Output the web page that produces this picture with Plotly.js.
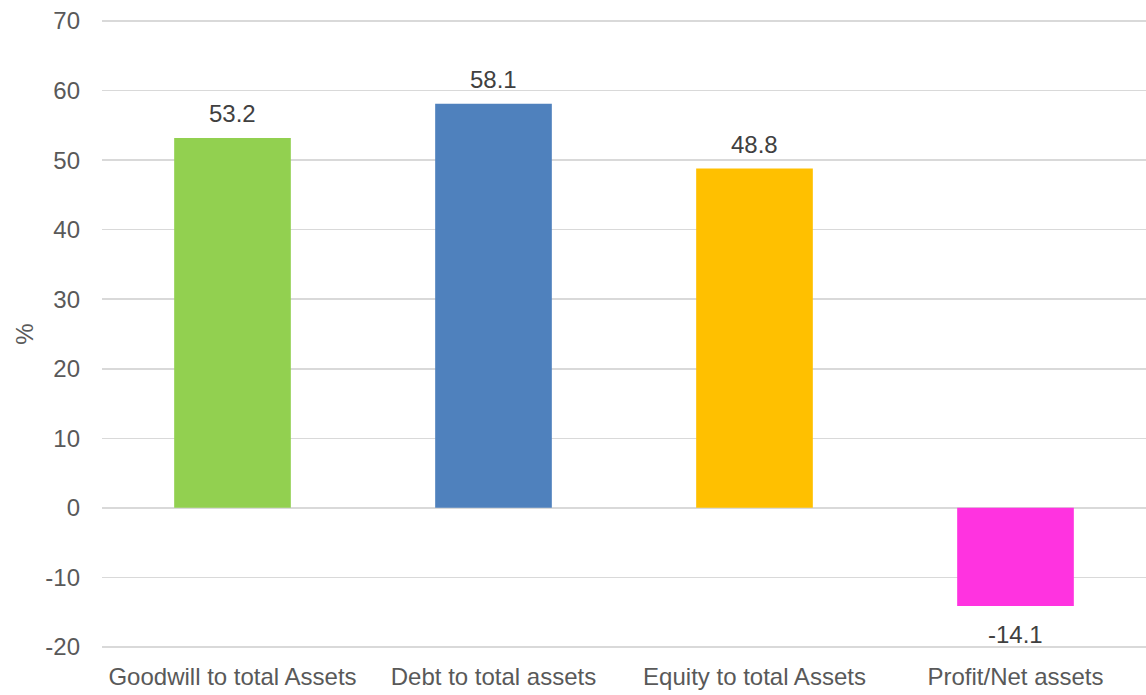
<!DOCTYPE html>
<html>
<head>
<meta charset="utf-8">
<script src="https://cdn.plot.ly/plotly-3.0.1.min.js"></script>
<style>html,body{margin:0;padding:0;background:#fff;}#chart{width:1146px;height:695px;}</style>
</head>
<body>
<div id="chart"></div>
<script>
const categories = ["Goodwill to total Assets", "Debt to total assets", "Equity to total Assets", "Profit/Net assets"];
const values = [53.2, 58.1, 48.8, -14.1];
const barColors = ["#92D050", "#4F81BD", "#FFC000", "#FF33E0"];
const yTicks = [-20, -10, 0, 10, 20, 30, 40, 50, 60, 70];
const yAxisTitle = "%";

const FONT = "Liberation Sans, Arial, sans-serif";

const trace = {
  type: "bar",
  x: categories,
  y: values,
  marker: { color: barColors },
  hoverinfo: "skip"
};

const annotations = categories.map((c, i) => ({
  x: c,
  y: values[i],
  xref: "x",
  yref: "y",
  text: values[i].toFixed(1),
  showarrow: false,
  yanchor: "middle",
  yshift: values[i] >= 0 ? 24 : -29,
  font: { family: FONT, size: 24, color: "#404040" }
}));

const layout = {
  width: 1146,
  height: 695,
  margin: { l: 102, r: 0, t: 20, b: 47 },
  paper_bgcolor: "#ffffff",
  plot_bgcolor: "#ffffff",
  bargap: 0.553,
  showlegend: false,
  font: { family: FONT, size: 24, color: "#595959" },
  xaxis: {
    type: "category",
    showgrid: false,
    showline: false,
    ticks: "",
    ticklabelstandoff: 12,
    tickfont: { family: FONT, size: 24, color: "#595959" },
    zeroline: false
  },
  yaxis: {
    range: [-20.15, 70.15],
    tickvals: yTicks,
    ticktext: yTicks.map(String),
    showgrid: true,
    gridcolor: "#D9D9D9",
    gridwidth: 1.5,
    zeroline: true,
    zerolinecolor: "#D9D9D9",
    zerolinewidth: 1.5,
    showline: false,
    ticks: "",
    ticklabelstandoff: 21,
    tickfont: { family: FONT, size: 24, color: "#595959" },
    title: { text: yAxisTitle, font: { family: FONT, size: 24, color: "#595959" }, standoff: 4 }
  },
  annotations: annotations
};

Plotly.newPlot("chart", [trace], layout, { staticPlot: true, displayModeBar: false });
</script>
</body>
</html>
